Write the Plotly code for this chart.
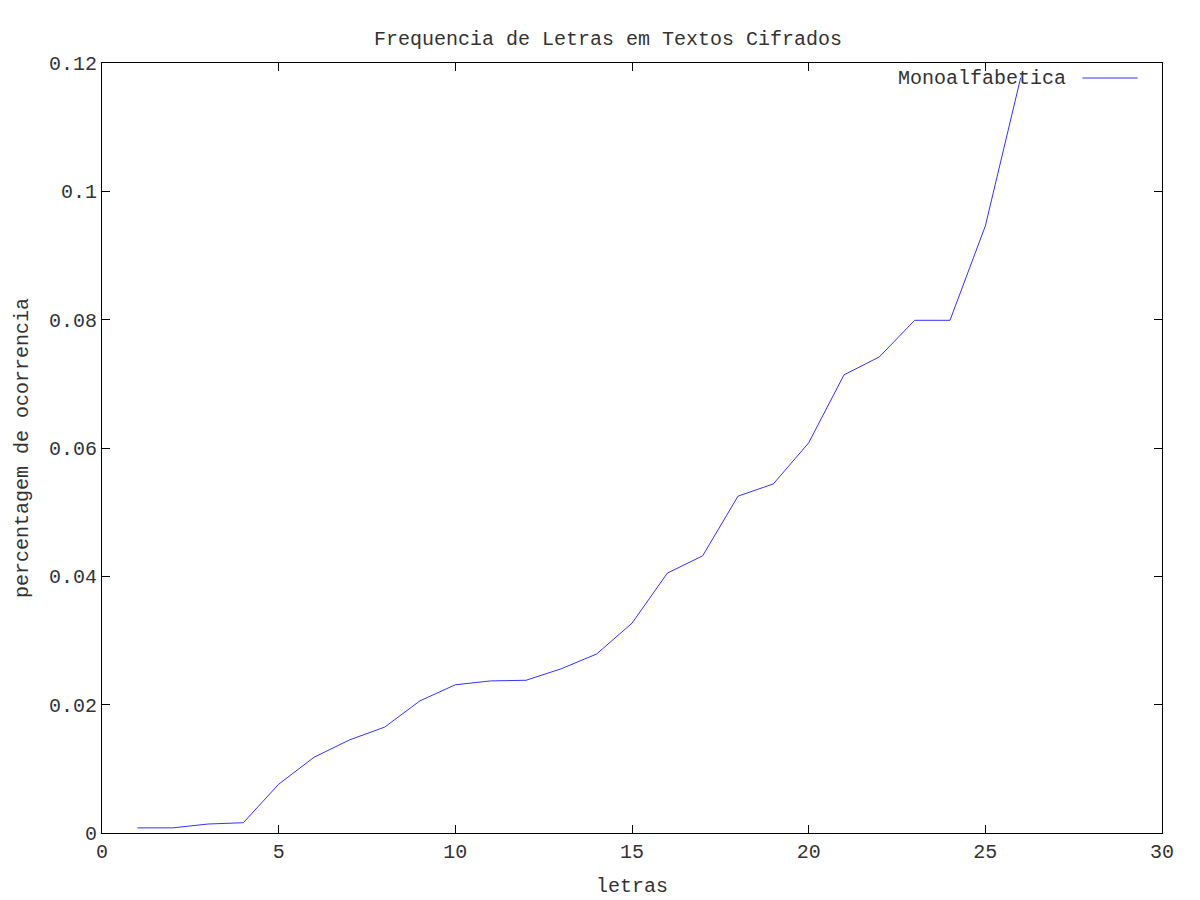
import plotly.graph_objects as go

# Frequência ordenada das letras
letras = list(range(1, 27))
frequencia = [0.0008, 0.0008, 0.0014, 0.0016, 0.0076, 0.0118, 0.0145, 0.0165,
              0.0206, 0.0231, 0.0237, 0.0238, 0.0256, 0.0279, 0.0327, 0.0405,
              0.0432, 0.0525, 0.0544, 0.0608, 0.0714, 0.0742, 0.0799, 0.0799,
              0.0946, 0.1177]

fonte = dict(family="Liberation Mono, DejaVu Sans Mono, monospace", size=20, color="#333")

fig = go.Figure()
fig.add_trace(go.Scatter(
    x=letras, y=frequencia, mode='lines', name='Monoalfabetica',
    line=dict(color='#3333ff', width=1), showlegend=False
))

eixo = dict(showgrid=False, zeroline=False, showline=True, linecolor='black',
            linewidth=1, mirror='ticks', ticks='inside', ticklen=8,
            tickcolor='black', tickfont=fonte)

fig.update_layout(
    width=1200, height=900,
    plot_bgcolor='white', paper_bgcolor='white',
    font=fonte,
    title=dict(text='Frequencia de Letras em Textos Cifrados', x=0.5, y=0.975,
               xanchor='center', font=fonte),
    margin=dict(l=94, r=46, t=55, b=75),
    xaxis=dict(eixo, range=[0, 30], dtick=5,
               title=dict(text='letras', font=fonte, standoff=14)),
    yaxis=dict(eixo, range=[0, 0.12], dtick=0.02, tickformat='~g',
               title=dict(text='percentagem de ocorrencia', font=fonte, standoff=14)),
)

# Legenda no estilo gnuplot: texto à esquerda, amostra da linha à direita
fig.add_annotation(x=0.911, y=0.9805, xref='paper', yref='paper', text='Monoalfabetica',
                   showarrow=False, xanchor='right', yanchor='middle', font=fonte)
fig.add_shape(type='line', xref='paper', yref='paper', x0=0.925, x1=0.977,
              y0=0.9805, y1=0.9805, line=dict(color='#3333ff', width=1))

fig.write_html("out.html")
